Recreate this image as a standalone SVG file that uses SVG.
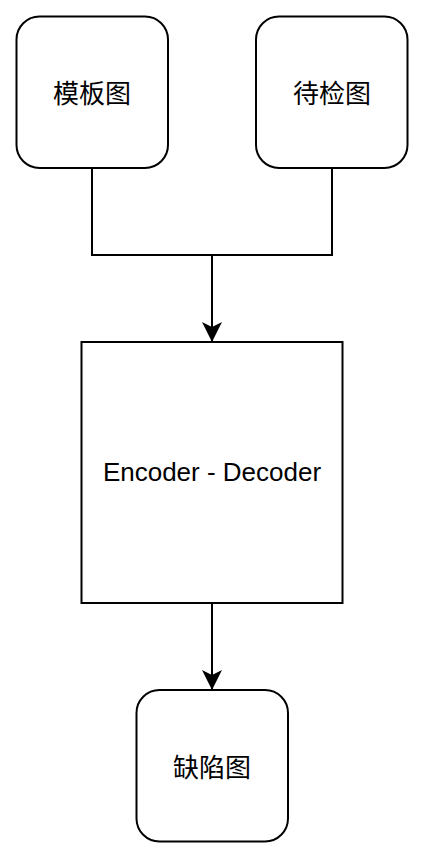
<svg xmlns="http://www.w3.org/2000/svg" width="423" height="854" viewBox="0 0 423 854">
<defs>
<style>
.node{fill:#ffffff;stroke:#000000;stroke-width:2}
.edge{fill:none;stroke:#000000;stroke-width:2}
.cjk{font-family:"Noto Sans CJK SC","Liberation Sans",sans-serif;font-size:26px;fill:#000000;text-anchor:middle;dominant-baseline:central}
.lat{font-family:"Liberation Sans",Arial,sans-serif;font-size:26px;fill:#000000;text-anchor:middle}
</style>
<marker id="arrow" viewBox="0 0 20 20" refX="19" refY="10" markerWidth="20" markerHeight="20" markerUnits="userSpaceOnUse" orient="auto">
<path d="M0,0 L20,10 L0,20 L5,10 Z" fill="#000000"/>
</marker>
</defs>
<rect width="423" height="854" fill="#ffffff"/>
<g id="connectors">
<path class="edge" d="M92,168 V255 H332 V168"/>
<path class="edge" d="M212,255 V341" marker-end="url(#arrow)"/>
<path class="edge" d="M212,603 V689" marker-end="url(#arrow)"/>
</g>
<g id="template">
<rect class="node" x="16.5" y="16.5" width="151.5" height="151.5" rx="23" ry="23"/>
<text class="cjk" x="92" y="91">模板图</text>
</g>
<g id="test">
<rect class="node" x="256" y="16.5" width="151.5" height="151.5" rx="23" ry="23"/>
<text class="cjk" x="332" y="91">待检图</text>
</g>
<g id="encdec">
<rect class="node" x="81.5" y="342" width="261" height="261"/>
<text class="lat" x="212" y="481">Encoder - Decoder</text>
</g>
<g id="defect">
<rect class="node" x="136.5" y="690" width="151.5" height="151.5" rx="23" ry="23"/>
<text class="cjk" x="212" y="765">缺陷图</text>
</g>
</svg>
